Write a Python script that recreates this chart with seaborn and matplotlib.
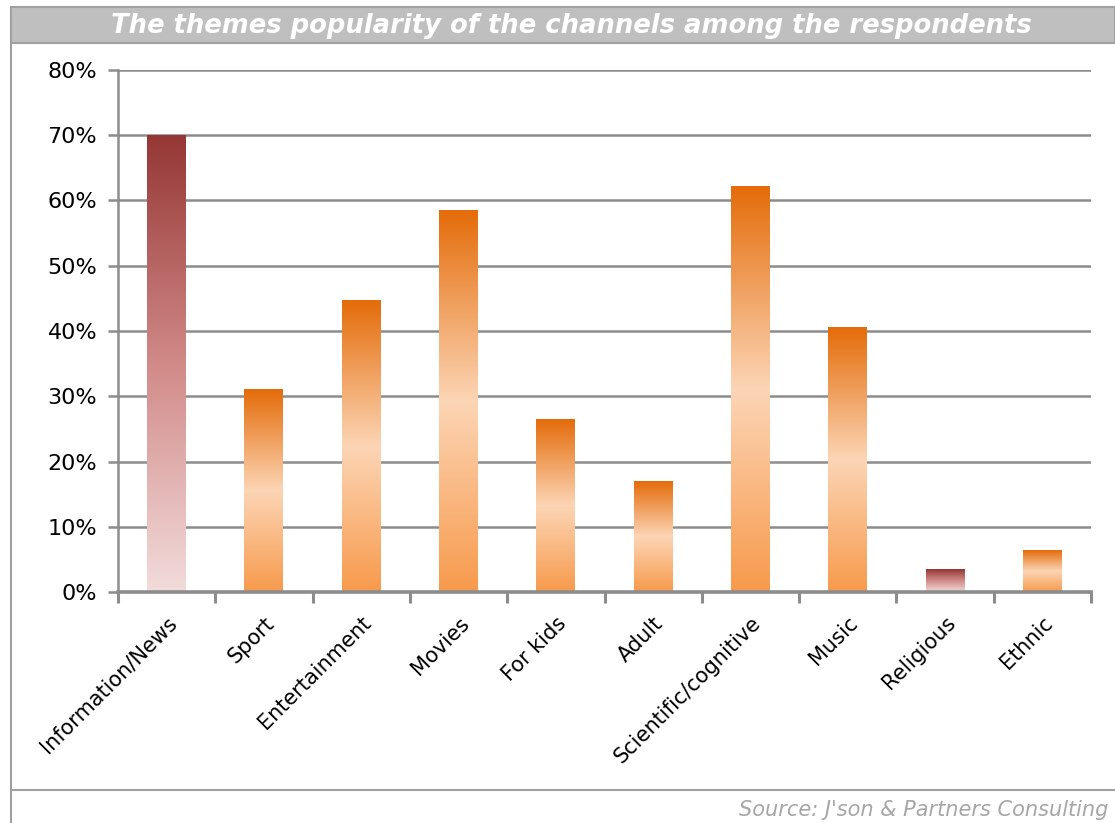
import numpy as np
import pandas as pd
import matplotlib
matplotlib.use("Agg")
import matplotlib.pyplot as plt
from matplotlib.colors import LinearSegmentedColormap
from matplotlib.patches import Rectangle
from matplotlib.lines import Line2D
from matplotlib.ticker import FixedLocator, PercentFormatter
import seaborn as sns

# ---- data ----
categories = ["Information/News", "Sport", "Entertainment", "Movies", "For kids",
              "Adult", "Scientific/cognitive", "Music", "Religious", "Ethnic"]
values = [0.70, 0.31, 0.447, 0.584, 0.265, 0.17, 0.622, 0.406, 0.035, 0.063]
red_categories = ["Information/News", "Religious"]
title = "The themes popularity of the channels among the respondents"
source = "Source: J'son & Partners Consulting"

sns.set_theme(style="white")
plt.rcParams['font.family'] = ['DejaVu Sans']

W, H = 1115, 823
fig = plt.figure(figsize=(W / 100, H / 100), dpi=100)
fig.patch.set_facecolor("white")

ax = fig.add_axes([118 / W, 1 - 592 / H, (1091 - 118) / W, (592 - 70) / H])

df = pd.DataFrame({"category": categories, "value": values})
sns.barplot(data=df, x="category", y="value", width=0.4, color="#F79646",
            ax=ax, zorder=2)

orange_cmap = LinearSegmentedColormap.from_list(
    "orange", [(0.0, "#F79A4C"), (0.5, "#FCD5B5"), (1.0, "#E46C0A")])
red_cmap = LinearSegmentedColormap.from_list(
    "red", [(0.0, "#F2DCDB"), (0.5, "#D18A88"), (1.0, "#953735")])

grad = np.linspace(0, 1, 256).reshape(-1, 1)
for patch, cat in zip(ax.patches, categories):
    x0 = patch.get_x()
    w = patch.get_width()
    h = patch.get_height()
    cmap = red_cmap if cat in red_categories else orange_cmap
    ax.imshow(grad, extent=[x0, x0 + w, 0, h], origin="lower",
              aspect="auto", cmap=cmap, zorder=3, interpolation="bilinear")
    patch.set_visible(False)

ax.set_xlim(-0.5, len(categories) - 0.5)
ax.set_ylim(0, 0.8)
ax.set_aspect("auto")

gray = "#8C8C8C"
ax.set_axisbelow(True)
ax.yaxis.grid(True, color=gray, lw=1.8)
ax.set_yticks(np.arange(0, 0.81, 0.1))
ax.yaxis.set_major_formatter(PercentFormatter(1.0, decimals=0))
ax.tick_params(axis="y", which="major", length=7, width=1.8, color=gray,
               labelsize=16, pad=8, labelcolor="black", left=True)

ax.set_xticks(range(len(categories)))
ax.set_xticklabels(categories, rotation=45, ha="right", va="top",
                   rotation_mode="anchor")
ax.tick_params(axis="x", which="major", length=0, labelsize=15, pad=15,
               labelcolor="black")
ax.xaxis.set_minor_locator(FixedLocator(np.arange(-0.5, len(categories), 1.0)))
ax.tick_params(axis="x", which="minor", length=8, width=2.2, color=gray,
               bottom=True)

for s in ["top", "right"]:
    ax.spines[s].set_visible(False)
ax.spines["left"].set_color(gray)
ax.spines["left"].set_linewidth(1.8)
ax.spines["bottom"].set_color(gray)
ax.spines["bottom"].set_linewidth(2.6)
ax.spines["bottom"].set_zorder(4)
ax.set_xlabel("")
ax.set_ylabel("")

# ---- frame, title band, source ----
fig.patches.append(Rectangle((11 / W, 1 - 43 / H), 1 - 11 / W, 36 / H,
                             transform=fig.transFigure, facecolor="#BFBFBF",
                             edgecolor="#A0A0A0", lw=1.5, zorder=0))
fig.lines.append(Line2D([11 / W, 11 / W], [1 - 43 / H, 0],
                        transform=fig.transFigure, color="#A0A0A0", lw=1.5))
fig.lines.append(Line2D([11 / W, 1], [1 - 790 / H, 1 - 790 / H],
                        transform=fig.transFigure, color="#A0A0A0", lw=1.5))
fig.text(571 / W, 1 - 26 / H, title, color="white", fontsize=18.6,
         fontweight="bold", fontstyle="italic", ha="center", va="center")
fig.text(1108 / W, 1 - 810 / H, source, color="#A6A6A6", fontsize=15,
         fontstyle="italic", ha="right", va="center")

fig.savefig("out.png", dpi=100)
